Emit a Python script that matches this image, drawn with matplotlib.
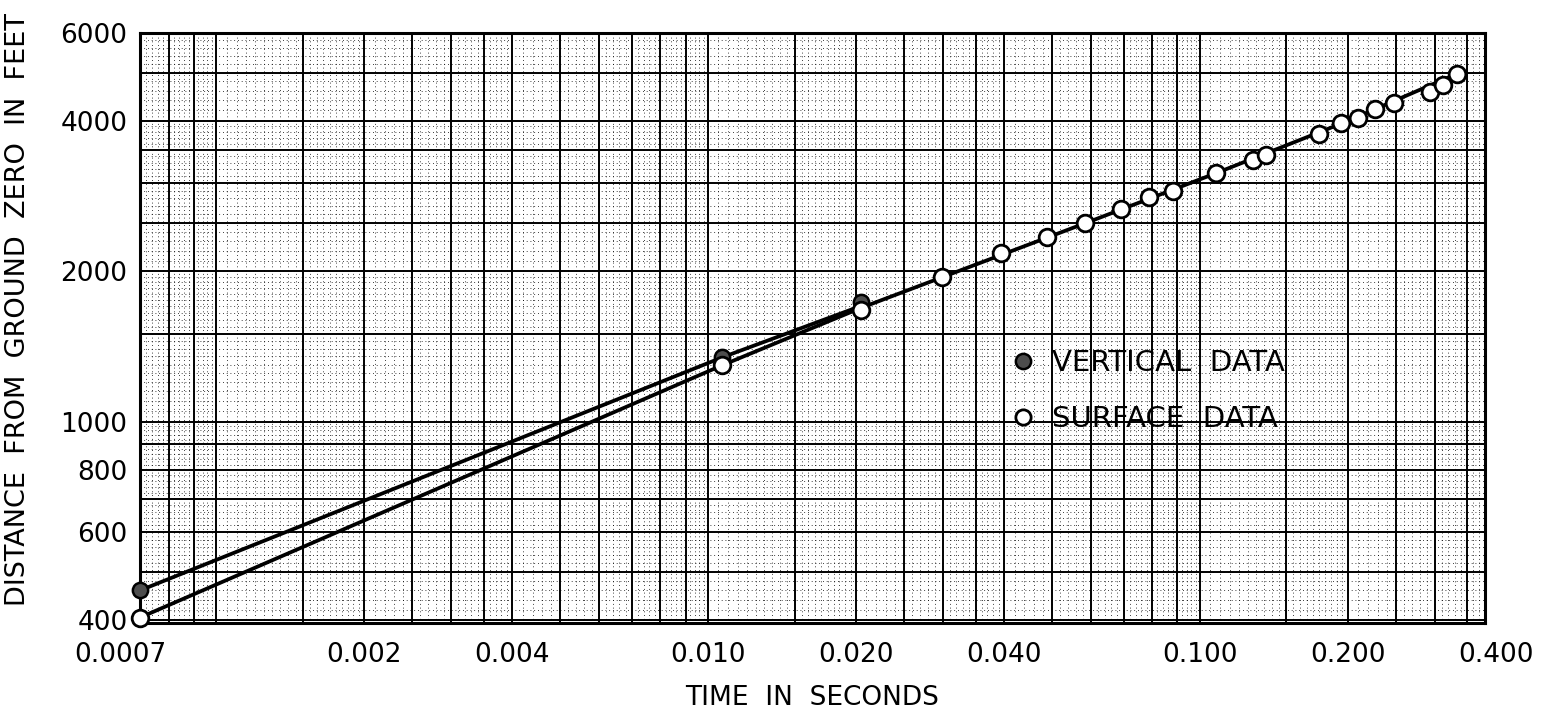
import numpy as np
import matplotlib.pyplot as plt
from matplotlib.lines import Line2D

# surface data (open circles) - time in s, distance in ft
surface_t = [0.0007, 0.0107, 0.0205, 0.0299, 0.0394, 0.0489, 0.0584, 0.0692, 0.0788, 0.0882,
             0.108, 0.128, 0.136, 0.175, 0.194, 0.210, 0.227, 0.248, 0.294, 0.312, 0.333]
surface_d = [405, 1297, 1672, 1946, 2175, 2341, 2497, 2664, 2815, 2894,
             3145, 3339, 3417, 3766, 3961, 4055, 4226, 4345, 4571, 4721, 4966]

# vertical data (filled circles)
vertical_t = [0.0007, 0.0107, 0.0205]
vertical_d = [459, 1345, 1734]

# hand drawn curves through the points
surface_fit_t = [0.0007, 0.0107, 0.0205, 0.06, 0.108, 0.2, 0.336]
surface_fit_d = [405, 1297, 1690, 2520, 3145, 4000, 4990]
vertical_fit_t = [0.0007, 0.0107, 0.0205]
vertical_fit_d = [459, 1345, 1705]

x_ticks = [0.0007, 0.002, 0.004, 0.010, 0.020, 0.040, 0.100, 0.200, 0.400]
x_tick_labels = ['0.0007', '0.002', '0.004', '0.010', '0.020', '0.040', '0.100', '0.200', '0.400']
y_ticks = [400, 600, 800, 1000, 2000, 4000, 6000]
y_tick_labels = ['400', '600', '800', '1000', '2000', '4000', '6000']

plt.rcParams['font.family'] = ['DejaVu Sans']

fig = plt.figure(figsize=(15.45, 7.18), dpi=100)
ax = fig.add_axes([140 / 1545, 1 - 623 / 718, 1345 / 1545, 590 / 718])
ax.set_xscale('log')
ax.set_yscale('log')
xmin, xmax = 0.0007, 0.38
ymin, ymax = 395, 6000
ax.set_xlim(xmin, xmax)
ax.set_ylim(ymin, ymax)

# log-log graph paper
heavy = [1, 1.5, 2, 2.5, 3, 3.5, 4, 5, 6, 7, 8, 9]
fine = np.concatenate([np.arange(1, 2, 0.05), np.arange(2, 4, 0.1), np.arange(4, 10, 0.2)])
for dec in range(-4, 5):
    for m in fine:
        v = m * 10.0 ** dec
        if xmin < v < xmax:
            ax.axvline(v, color='black', lw=0.6, ls=(0, (1, 3.5)), zorder=0)
        if ymin < v < ymax:
            ax.axhline(v, color='black', lw=0.6, ls=(0, (1, 3.5)), zorder=0)
    for m in heavy:
        v = m * 10.0 ** dec
        if xmin < v < xmax:
            ax.axvline(v, color='black', lw=1.4, zorder=1)
        if ymin < v < ymax:
            ax.axhline(v, color='black', lw=1.4, zorder=1)

# curves
ax.plot(surface_fit_t, surface_fit_d, color='black', lw=2.7, zorder=3, clip_on=False)
ax.plot(vertical_fit_t, vertical_fit_d, color='black', lw=2.7, zorder=3, clip_on=False)

# points
ax.plot(vertical_t, vertical_d, ls='none', marker='o', ms=11, mfc='0.3', mec='black',
        mew=1.8, zorder=4, clip_on=False)
ax.plot(surface_t, surface_d, ls='none', marker='o', ms=12, mfc='white', mec='black',
        mew=2.0, zorder=5, clip_on=False)

# y axis
ax.minorticks_off()
ax.set_yticks(y_ticks)
ax.set_yticklabels(y_tick_labels)
ax.tick_params(axis='y', length=0, pad=9, labelsize=19)
ax.set_xticks([])

# x tick labels
for t, lab in zip(x_ticks, x_tick_labels):
    shift = -20 if lab == '0.0007' else 0
    ax.annotate(lab, xy=(t, 0), xycoords=('data', 'axes fraction'),
                xytext=(shift, -19), textcoords='offset pixels',
                ha='center', va='top', fontsize=19, annotation_clip=False)

for side in ax.spines.values():
    side.set_linewidth(2.2)

ax.set_xlabel('TIME  IN  SECONDS', fontsize=19)
ax.xaxis.set_label_coords(0.5, -0.105)
ax.set_ylabel('DISTANCE  FROM  GROUND  ZERO  IN  FEET', fontsize=19.5)
ax.yaxis.set_label_coords(-0.081, 0.532)

handles = [Line2D([], [], ls='none', marker='o', ms=11, mfc='0.3', mec='black', mew=1.8),
           Line2D([], [], ls='none', marker='o', ms=11, mfc='white', mec='black', mew=2.0)]
ax.legend(handles, ['VERTICAL  DATA', 'SURFACE  DATA'], loc='upper left',
          bbox_to_anchor=(0.648, 0.464), frameon=False, fontsize=21,
          handlelength=0.8, handletextpad=0.6, labelspacing=0.95,
          borderpad=0, borderaxespad=0)

fig.savefig('out.png', dpi=100, facecolor='white')
